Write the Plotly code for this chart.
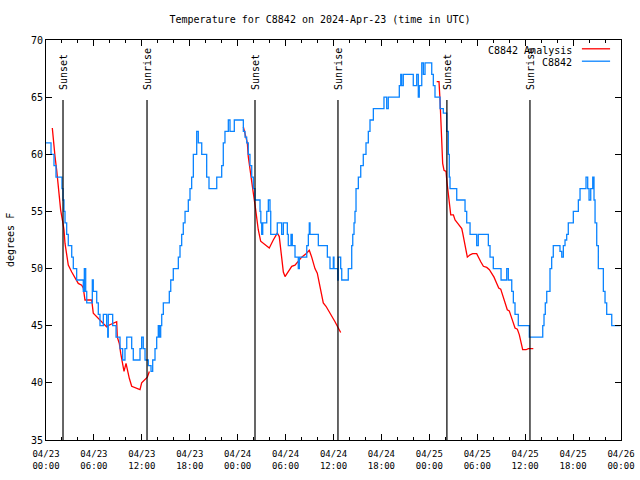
import pandas as pd
import plotly.graph_objects as go

# ---------------- data ----------------
start = "2024-04-23 00:00"
station = "C8842"

# observed temperature (hours since start, deg F) - step levels
obs_hours = [0, 0.63, 1.00, 1.25, 2.00, 2.13, 2.25, 2.38, 2.59, 2.79, 3.22, 3.42, 3.84, 4.67, 4.80, 4.97, 5.10,
             5.80, 5.92, 6.35, 6.55, 6.76, 7.18, 7.60, 7.73, 7.80, 8.35, 8.77, 9.27, 9.60, 9.89, 10.11, 10.73,
             10.93, 11.77, 11.98, 12.18, 12.40, 12.81, 13.15, 13.36, 13.65, 13.86, 14.06, 14.19, 14.36, 14.49,
             14.69, 15.44, 15.62, 15.94, 16.57, 16.78, 16.99, 17.19, 17.41, 17.82, 18.03, 18.24, 18.45, 18.87,
             19.07, 19.50, 20.12, 20.41, 21.38, 22.00, 22.20, 22.41, 22.83, 23.04, 23.58, 24.71, 24.92, 25.13,
             25.33, 25.54, 25.76, 25.96, 26.17, 26.80, 26.90, 27.01, 27.14, 27.64, 27.84, 28.05, 28.14, 28.96,
             29.51, 29.72, 30.22, 30.34, 30.68, 30.84, 31.18, 31.59, 31.72, 32.65, 32.85, 32.97, 33.06, 34.10,
             35.23, 35.56, 35.98, 36.06, 36.53, 36.60, 36.90, 37.03, 37.85, 38.28, 38.41, 38.57, 38.69, 38.82,
             39.11, 39.41, 39.73, 40.07, 40.36, 40.57, 40.99, 42.32, 42.66, 42.86, 44.24, 44.42, 44.54, 44.74,
             45.99, 46.42, 46.62, 46.74, 47.05, 47.25, 47.46, 48.30, 48.50, 48.71, 49.34, 49.75, 50.18, 50.38,
             50.50, 50.59, 51.43, 52.47, 52.68, 53.10, 53.93, 54.13, 55.39, 55.60, 56.01, 56.98, 57.69, 57.89,
             58.32, 58.52, 58.73, 59.14, 60.52, 62.20, 62.36, 62.52, 62.70, 63.11, 63.32, 63.52, 64.36, 64.58,
             64.78, 64.99, 65.20, 65.40, 66.03, 66.66, 66.87, 67.62, 67.83, 68.00, 68.21, 68.46, 68.62, 68.75,
             68.96, 69.16, 69.79, 70.00, 70.21, 70.84, 71.88]
obs_temp = [61, 60, 59, 58, 57, 56, 55, 54, 53, 52, 51, 50, 49, 48, 50, 48, 47,
            49, 48, 47, 46, 45, 46, 45, 44, 46, 45, 44, 43, 42, 43, 44, 43,
            42, 43, 44, 43, 42, 41.5, 41, 42, 43, 44, 45, 44, 45, 46,
            47, 48, 49, 50, 51, 52, 53, 54, 55, 56, 57, 58, 60, 62,
            61, 60, 58, 57, 58, 59, 61, 62, 63, 62, 63, 62, 61.5, 61,
            60, 59, 58, 57, 56, 55, 54, 53, 54, 55, 56, 55, 53, 54,
            53, 54, 53, 52, 53, 52, 51, 50, 51, 52, 53, 54, 53, 52,
            51, 50, 51, 50, 49, 51, 50, 49, 50, 52, 53, 54, 55, 57,
            58, 59, 60, 61, 62, 63, 64, 65, 64, 65, 66, 67, 66, 67,
            66, 67, 65, 66, 68, 67, 68, 67, 66, 65, 64, 63.6, 62, 60,
            58, 57, 56, 55, 54, 53, 52, 53, 52, 51, 50, 49, 50, 49,
            48, 47, 46, 45, 44, 45, 46, 47, 48, 50, 51, 52, 51.5, 51,
            52, 52.5, 53, 54, 55, 56, 57, 58, 57, 56, 57, 58, 56, 54,
            52, 50, 48, 47, 46, 45, 45]

# analysis temperature, three nightly segments (hours since start, deg F)
ana1_hours = [0.79, 0.91, 1.13, 1.34, 1.54, 1.75, 1.84, 2.09, 2.25, 2.38, 2.59, 2.79, 3.22, 3.63, 4.04, 4.47,
              4.67, 4.88, 5.72, 5.92, 6.35, 6.76, 7.18, 7.60, 7.93, 8.43, 8.85, 8.93, 9.18, 9.35, 9.60, 9.77,
              10.02, 10.18, 10.43, 10.73, 11.36, 11.77, 11.98, 12.40, 12.69, 12.94]
ana1_temp = [62.3, 61.25, 59.8, 58.6, 57.2, 55.7, 55.1, 54.1, 53.4, 52.2, 51.3, 50.3, 49.7, 49.15, 48.7, 48.55,
             48.3, 47.25, 47.25, 46.1, 45.8, 45.5, 45.2, 44.9, 45.06, 45.2, 45.35, 44.0, 43.45, 42.6, 41.7, 41.0,
             41.7, 41.1, 40.4, 39.7, 39.5, 39.4, 40.0, 40.25, 40.5, 41.0]
ana2_hours = [24.71, 25.04, 25.21, 25.33, 25.54, 25.76, 25.96, 26.17, 26.30, 26.58, 26.88, 27.96, 28.46, 28.96,
              29.21, 29.39, 29.55, 29.72, 29.93, 30.34, 30.77, 31.18, 31.59, 32.02, 32.56, 32.97, 33.27, 33.68,
              33.97, 34.31, 34.52, 34.72, 35.06, 35.48, 35.90, 36.19, 36.60, 36.90]
ana2_temp = [62.4, 61.5, 61.0, 59.8, 58.6, 57.5, 56.6, 55.6, 54.8, 53.4, 52.4, 51.8, 52.5, 53.1,
             52.8, 51.6, 50.6, 49.7, 49.3, 49.7, 50.2, 50.3, 50.6, 51.0, 51.3, 51.6, 51.0, 50.0,
             49.6, 48.4, 47.5, 47.0, 46.7, 46.2, 45.8, 45.35, 44.8, 44.4]
ana3_hours = [48.92, 49.21, 49.34, 49.42, 49.55, 49.67, 49.84, 50.09, 50.18, 50.38, 50.59, 50.68, 51.01, 51.22,
              51.51, 51.85, 52.06, 52.18, 52.35, 52.60, 52.76, 53.10, 53.43, 53.93, 54.13, 54.44, 54.77, 55.19,
              55.52, 55.81, 56.10, 56.44, 56.69, 56.94, 57.19, 57.39, 57.60, 57.76, 58.01, 58.19, 58.44, 58.73,
              59.02, 59.27, 59.44, 59.69, 60.11, 60.39, 61.02]
ana3_temp = [66.35, 66.35, 64.75, 63.3, 61.8, 59.2, 58.6, 58.5, 57.75, 56.6, 55.6, 54.7, 54.7, 54.25,
             54.0, 53.7, 53.5, 53.1, 52.5, 51.8, 51.0, 51.2, 51.3, 51.3, 51.0, 50.6, 50.2, 50.1,
             49.9, 49.6, 49.25, 48.7, 48.3, 48.2, 47.7, 47.25, 46.7, 46.4, 46.3, 45.85, 45.4, 44.8,
             44.7, 44.2, 43.6, 42.9, 42.9, 43.0, 43.0]

# sun events (hours since start)
sun_hours = [2.13, 12.65, 26.17, 36.56, 50.20, 60.60]
sun_labels = ["Sunset", "Sunrise", "Sunset", "Sunrise", "Sunset", "Sunrise"]

y_range = [35, 70]
y_ticks = [35, 40, 45, 50, 55, 60, 65, 70]

# ---------------- build ----------------
base = pd.Timestamp(start)


def to_time(hours):
    return [base + pd.Timedelta(hours=h) for h in hours]


ana_x, ana_y = [], []
for hs, ts in [(ana1_hours, ana1_temp), (ana2_hours, ana2_temp), (ana3_hours, ana3_temp)]:
    ana_x += to_time(hs) + [None]
    ana_y += ts + [None]

RED = "#ff0000"
BLUE = "#0a84ff"
FONT = "DejaVu Sans Mono"

fig = go.Figure()
fig.add_trace(go.Scatter(x=ana_x, y=ana_y, mode="lines", name=station + " Analysis",
                         line=dict(color=RED, width=1.3), connectgaps=False, showlegend=False))
fig.add_trace(go.Scatter(x=to_time(obs_hours), y=obs_temp, mode="lines", name=station,
                         line=dict(color=BLUE, width=1.3, shape="hv"), showlegend=False))

line_top = 64.75
for t, lab in zip(to_time(sun_hours), sun_labels):
    fig.add_shape(type="line", xref="x", yref="y", x0=t, x1=t, y0=y_range[0], y1=line_top,
                  line=dict(color="black", width=1.2))
    fig.add_annotation(x=t, y=65.45, xref="x", yref="y", text=lab, textangle=-90, showarrow=False,
                       xanchor="center", yanchor="bottom", font=dict(family=FONT, size=10, color="black"))

# gnuplot-style legend: text then sample line
legend_items = [(station + " Analysis", RED, 0.975), (station, BLUE, 0.944)]
for name, col, yy in legend_items:
    fig.add_annotation(x=0.918, y=yy, xref="paper", yref="paper", text=name, showarrow=False,
                       xanchor="right", yanchor="middle", font=dict(family=FONT, size=10, color="black"))
    fig.add_shape(type="line", xref="paper", yref="paper", x0=0.932, x1=0.981, y0=yy + 0.003, y1=yy + 0.003,
                  line=dict(color=col, width=1.3))

fig.add_annotation(x=-0.0626, y=0.5, xref="paper", yref="paper", text="degrees F", textangle=-90,
                   showarrow=False, xanchor="center", yanchor="middle",
                   font=dict(family=FONT, size=10, color="black"))

fig.update_layout(
    width=640, height=480,
    margin=dict(l=46, r=19, t=40, b=40, autoexpand=False),
    paper_bgcolor="white", plot_bgcolor="white",
    title=dict(text="Temperature for %s on 2024-Apr-23 (time in UTC)" % station,
               x=0.5, xref="container", y=1 - 19 / 480, yref="container",
               xanchor="center", yanchor="middle",
               font=dict(family=FONT, size=10, color="black")),
    font=dict(family=FONT, size=9, color="black"),
    showlegend=False,
    hovermode=False,
)
fig.update_xaxes(
    type="date", range=[base, base + pd.Timedelta(hours=72)], automargin=False,
    tick0=base, dtick=6 * 3600 * 1000, tickformat="%m/%d\n%H:%M",
    ticks="inside", ticklen=6, tickcolor="black", tickwidth=1, ticklabelstandoff=5,
    showline=True, linecolor="black", linewidth=1, mirror="allticks",
    showgrid=False, zeroline=False,
    minor=dict(dtick=2 * 3600 * 1000, ticks="inside", ticklen=3, tickcolor="black", showgrid=False),
    tickfont=dict(family=FONT, size=9, color="black"),
)
fig.update_yaxes(
    range=y_range, tickvals=y_ticks, automargin=False,
    ticks="inside", ticklen=6, tickcolor="black", tickwidth=1,
    showline=True, linecolor="black", linewidth=1, mirror="allticks",
    showgrid=False, zeroline=False,
    tickfont=dict(family=FONT, size=10, color="black"),
)

fig.write_html("out.html", config={"displayModeBar": False},
               post_script="document.body.style.margin='0';")
